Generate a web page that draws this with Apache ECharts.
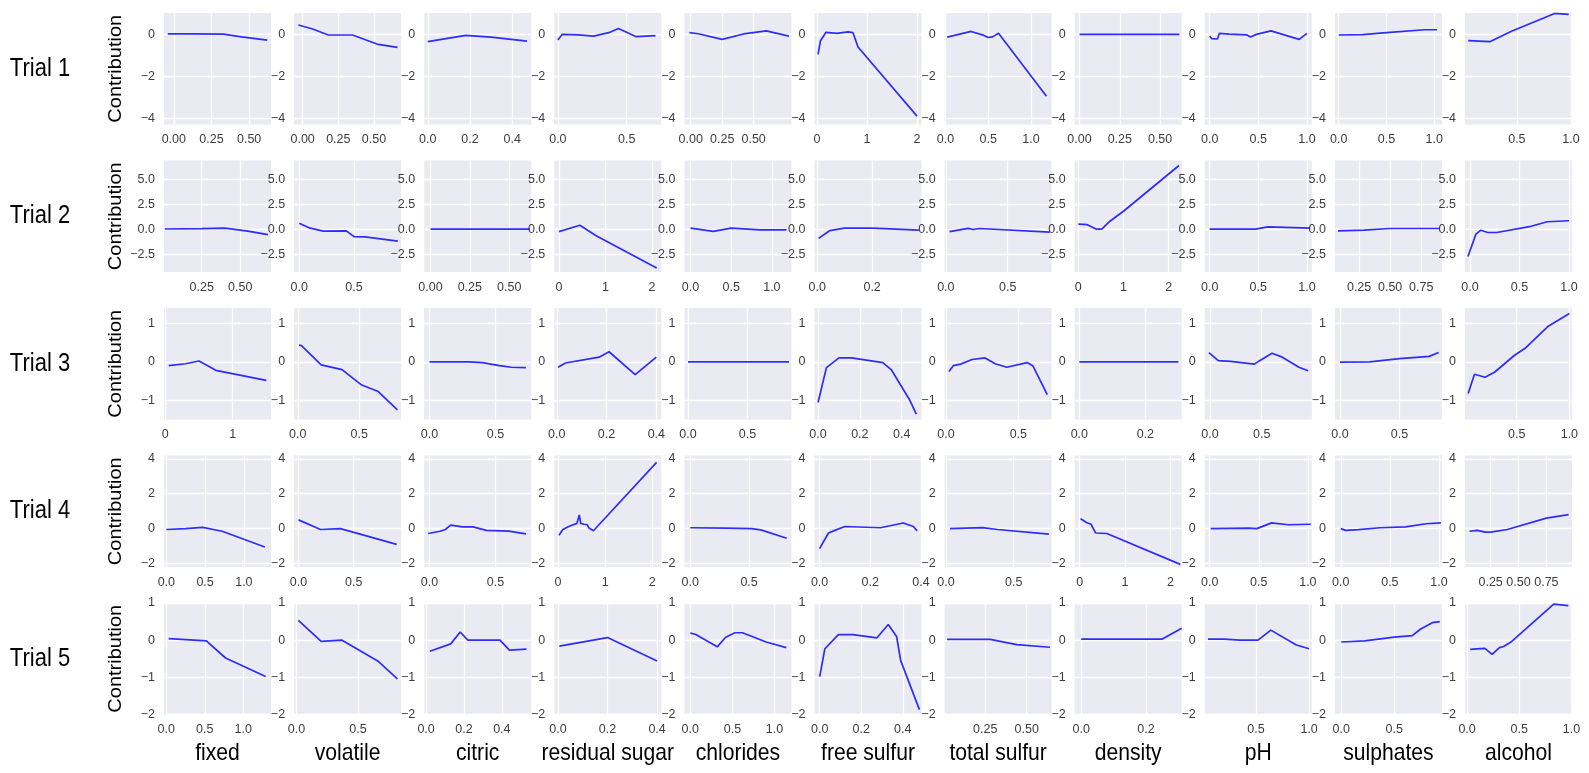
<!DOCTYPE html>
<html><head><meta charset="utf-8">
<script src="https://cdn.jsdelivr.net/npm/echarts@6/dist/echarts.min.js"></script>
<style>html,body{margin:0;padding:0;background:#fff}#chart{width:1589px;height:773px}</style>
</head><body><div id="chart"></div>
<script>
const features = ['fixed','volatile','citric','residual sugar','chlorides','free sulfur','total sulfur','density','pH','sulphates','alcohol'];
const trialNames = ['Trial 1','Trial 2','Trial 3','Trial 4','Trial 5'];
const yTicks = [[-4,-2,0],[-2.5,0,2.5,5],[-1,0,1],[-2,0,2,4],[-2,-1,0,1]];
const yLimits = [[-4.3,1.02],[-4.3,6.9],[-1.49,1.39],[-2.2,4.19],[-2.0,1.0]];

// Trial 1
const t1Lines = [
  [[-0.04,0.02],[0.1,0.02],[0.33,0.01],[0.45,-0.12],[0.62,-0.27]],
  [[-0.03,0.45],[0.065,0.27],[0.18,-0.03],[0.35,-0.03],[0.53,-0.48],[0.665,-0.62]],
  [[0,-0.35],[0.18,-0.05],[0.3,-0.13],[0.47,-0.32]],
  [[0.0,-0.27],[0.03,0.0],[0.15,-0.02],[0.26,-0.08],[0.37,0.08],[0.44,0.28],[0.57,-0.11],[0.71,-0.06]],
  [[-0.01,0.08],[0.06,0.03],[0.25,-0.24],[0.42,0.02],[0.6,0.17],[0.78,-0.08]],
  [[0.02,-0.95],[0.07,-0.3],[0.18,0.1],[0.4,0.05],[0.62,0.12],[0.72,0.08],[0.82,-0.6],[2.0,-3.9]],
  [[0.02,-0.13],[0.3,0.14],[0.45,-0.05],[0.5,-0.15],[0.55,-0.12],[0.62,0.05],[1.18,-2.95]],
  [[0,0],[0.3,0],[0.62,0]],
  [[0,-0.08],[0.02,-0.2],[0.08,-0.22],[0.1,0.05],[0.2,0.01],[0.38,-0.02],[0.42,-0.13],[0.48,0.0],[0.63,0.17],[0.92,-0.24],[1.0,0.05]],
  [[0,-0.03],[0.25,-0.01],[0.5,0.08],[0.9,0.22],[1.03,0.22]],
  [[0.05,-0.3],[0.25,-0.35],[0.45,0.15],[0.85,1.0],[0.98,0.95]]
];
const t1XLimits = [[-0.065,0.645],[-0.06,0.69],[-0.017,0.49],[-0.026,0.752],[-0.05,0.8],[-0.05,2.09],[-0.01,1.24],[-0.03,0.634],[-0.05,1.05],[-0.04,1.08],[0.02,1.01]];
const t1XTicks = [[0,0.25,0.5],[0,0.25,0.5],[0,0.2,0.4],[0,0.5],[0,0.25,0.5],[0,1,2],[0,0.5,1],[0,0.25,0.5],[0,0.5,1],[0,0.5,1],[0.5,1]];

// Trial 2
const t2Lines = [
  [[0.01,0.02],[0.25,0.05],[0.4,0.1],[0.55,-0.2],[0.68,-0.55]],
  [[0,0.6],[0.1,0.1],[0.22,-0.2],[0.43,-0.17],[0.5,-0.75],[0.6,-0.78],[0.9,-1.2]],
  [[0,0],[0.3,0],[0.63,0]],
  [[0,-0.25],[0.45,0.4],[0.8,-0.65],[2.1,-3.9]],
  [[0,0.1],[0.28,-0.22],[0.5,0.1],[0.85,-0.07],[1.18,-0.07]],
  [[0.005,-0.92],[0.045,-0.15],[0.1,0.1],[0.2,0.1],[0.37,-0.1]],
  [[0.03,-0.25],[0.18,0.08],[0.22,-0.03],[0.27,0.07],[0.84,-0.3]],
  [[0,0.5],[0.2,0.45],[0.4,0.0],[0.52,0.0],[0.7,0.8],[1.0,1.8],[2.23,6.4]],
  [[0,0],[0.47,0],[0.6,0.23],[1.03,0.1]],
  [[0.08,-0.17],[0.29,-0.1],[0.5,0.07],[0.9,0.07]],
  [[-0.02,-2.75],[0.06,-0.5],[0.11,-0.1],[0.18,-0.33],[0.27,-0.33],[0.6,0.25],[0.78,0.75],[1.0,0.85]]
];
const t2XLimits = [[0.005,0.70],[-0.047,0.93],[-0.04,0.64],[-0.1,2.2],[-0.075,1.24],[-0.01,0.38],[-0.01,0.855],[-0.08,2.29],[-0.05,1.05],[0.055,0.917],[-0.05,1.03]];
const t2XTicks = [[0.25,0.5],[0,0.5],[0,0.25,0.5],[0,1,2],[0,0.5,1],[0,0.2],[0,0.5],[0,1,2],[0,0.5,1],[0.25,0.5,0.75],[0,0.5,1]];

// Trial 3
const t3Lines = [
  [[0.05,-0.1],[0.3,-0.05],[0.5,0.02],[0.75,-0.22],[1.5,-0.48]],
  [[0.01,0.43],[0.03,0.42],[0.19,-0.08],[0.36,-0.2],[0.52,-0.6],[0.65,-0.76],[0.81,-1.24]],
  [[0,0],[0.3,0],[0.4,-0.02],[0.53,-0.1],[0.62,-0.14],[0.73,-0.15]],
  [[0.005,-0.14],[0.035,-0.03],[0.17,0.12],[0.21,0.26],[0.315,-0.33],[0.4,0.12]],
  [[0,0],[0.4,0],[0.85,0]],
  [[0,-1.05],[0.04,-0.15],[0.1,0.1],[0.16,0.1],[0.31,-0.02],[0.35,-0.2],[0.44,-1.0],[0.47,-1.35]],
  [[0.02,-0.25],[0.05,-0.1],[0.1,-0.06],[0.18,0.06],[0.27,0.1],[0.34,-0.05],[0.42,-0.14],[0.56,-0.02],[0.6,-0.1],[0.7,-0.85]],
  [[0,0],[0.15,0],[0.3,0]],
  [[-0.01,0.24],[0.08,0.03],[0.2,0.01],[0.43,-0.06],[0.48,0.03],[0.6,0.22],[0.7,0.12],[0.86,-0.14],[0.95,-0.23]],
  [[0,-0.01],[0.25,0.0],[0.5,0.08],[0.75,0.14],[0.83,0.24]],
  [[0.04,-0.82],[0.1,-0.32],[0.2,-0.4],[0.29,-0.27],[0.48,0.17],[0.58,0.35],[0.8,0.92],[1.0,1.25]]
];
const t3XLimits = [[-0.02,1.57],[-0.03,0.84],[-0.04,0.77],[-0.01,0.42],[-0.03,0.87],[-0.017,0.495],[-0.01,0.73],[-0.014,0.31],[-0.05,0.985],[-0.043,0.857],[0.01,1.025]];
const t3XTicks = [[0,1],[0,0.5],[0,0.5],[0,0.2,0.4],[0,0.5],[0,0.2,0.4],[0,0.5],[0,0.2],[0,0.5],[0,0.5],[0.5,1]];

// Trial 4
const t4Lines = [
  [[0,-0.05],[0.25,0],[0.47,0.07],[0.72,-0.15],[1.27,-1.05]],
  [[0,0.5],[0.2,-0.05],[0.38,0],[0.89,-0.9]],
  [[-0.01,-0.28],[0.08,-0.15],[0.12,-0.05],[0.16,0.2],[0.25,0.1],[0.33,0.1],[0.43,-0.1],[0.6,-0.14],[0.73,-0.3]],
  [[0.02,-0.38],[0.1,-0.05],[0.25,0.15],[0.4,0.3],[0.45,0.78],[0.48,0.3],[0.55,0.25],[0.62,0.22],[0.65,0.05],[0.75,-0.12],[2.09,3.8]],
  [[0,0.05],[0.3,0.03],[0.52,0.0],[0.6,-0.07],[0.82,-0.55]],
  [[0,-1.15],[0.035,-0.25],[0.06,-0.1],[0.1,0.12],[0.24,0.05],[0.33,0.32],[0.37,0.12],[0.385,-0.13]],
  [[0.03,0],[0.27,0.06],[0.38,-0.05],[0.76,-0.32]],
  [[0.02,0.57],[0.15,0.35],[0.25,0.25],[0.35,-0.25],[0.6,-0.28],[2.22,-2.05]],
  [[0.01,0],[0.4,0.03],[0.48,0],[0.63,0.33],[0.8,0.22],[1.03,0.25]],
  [[0,0],[0.05,-0.1],[0.18,-0.06],[0.4,0.05],[0.66,0.1],[0.87,0.28],[1.02,0.33]],
  [[0.06,-0.15],[0.13,-0.1],[0.2,-0.2],[0.25,-0.2],[0.4,-0.05],[0.75,0.6],[0.95,0.8]]
];
const t4XLimits = [[-0.03,1.35],[-0.04,0.93],[-0.04,0.77],[-0.08,2.19],[-0.05,0.86],[-0.02,0.402],[-0.01,0.78],[-0.11,2.25],[-0.05,1.04],[-0.06,1.03],[0.02,0.98]];
const t4XTicks = [[0,0.5,1],[0,0.5],[0,0.5],[0,1,2],[0,0.5],[0,0.2,0.4],[0,0.5],[0,1,2],[0,0.5,1],[0,0.5,1],[0.25,0.5,0.75]];

// Trial 5
const t5Lines = [
  [[0.03,0.04],[0.2,0.02],[0.52,-0.02],[0.77,-0.48],[1.29,-0.98]],
  [[0.015,0.53],[0.2,-0.03],[0.37,0.0],[0.66,-0.56],[0.82,-1.04]],
  [[0.02,-0.3],[0.13,-0.1],[0.18,0.22],[0.22,0.0],[0.39,0.0],[0.44,-0.27],[0.53,-0.24]],
  [[0.005,-0.16],[0.2,0.07],[0.4,-0.56]],
  [[0,0.19],[0.06,0.16],[0.32,-0.18],[0.42,0.08],[0.53,0.2],[0.62,0.2],[0.9,-0.05],[1.14,-0.2]],
  [[0,-0.98],[0.025,-0.23],[0.09,0.15],[0.16,0.15],[0.275,0.06],[0.33,0.42],[0.37,0.1],[0.39,-0.55],[0.48,-1.87]],
  [[0.02,0.02],[0.28,0.02],[0.44,-0.12],[0.64,-0.19]],
  [[0,0.03],[0.25,0.03],[0.31,0.32]],
  [[0.05,0.03],[0.2,0.03],[0.35,0.0],[0.52,0.0],[0.64,0.27],[0.88,-0.13],[1.0,-0.23]],
  [[0,-0.05],[0.22,-0.02],[0.5,0.08],[0.67,0.12],[0.75,0.3],[0.86,0.47],[0.93,0.5]],
  [[0.03,-0.25],[0.17,-0.22],[0.24,-0.38],[0.31,-0.2],[0.35,-0.17],[0.42,-0.05],[0.83,0.97],[0.97,0.93]]
];
const t5XLimits = [[-0.03,1.36],[-0.02,0.85],[-0.01,0.555],[-0.015,0.417],[-0.07,1.2],[-0.025,0.49],[0.005,0.65],[-0.02,0.31],[0.02,1.025],[-0.06,0.95],[-0.02,1.005]];
const t5XTicks = [[0,0.5,1],[0,0.5],[0,0.2,0.4],[0,0.2,0.4],[0,0.5,1],[0,0.2,0.4],[0.25,0.5],[0,0.2],[0.5,1],[0,0.5],[0,0.5,1]];

const allLines = [t1Lines,t2Lines,t3Lines,t4Lines,t5Lines];
const allXLimits = [t1XLimits,t2XLimits,t3XLimits,t4XLimits,t5XLimits];
const allXTicks = [t1XTicks,t2XTicks,t3XTicks,t4XTicks,t5XTicks];

const LEFT0 = 164, COLSTEP = 130.1, PW = 107, TOP0 = 13, ROWSTEP = 147.5, PH = 111.5;
const LINE_COLOR = 'rgba(10,10,255,0.85)';
const TICK_COLOR = '#3d3d3d';
const TICK_FONT = 'Liberation Sans';

function decimalsOf(arr){
  let d = 0;
  arr.forEach(v => { const s = String(v); const i = s.indexOf('.'); if (i >= 0) d = Math.max(d, s.length - i - 1); });
  return d;
}
function fmt(v, d){
  const r = Math.abs(v) < 1e-12 ? 0 : v;
  const s = Math.abs(r).toFixed(d);
  return (r < 0 ? '\u2212' : '') + s;
}

const grids = [], xAxes = [], yAxes = [], series = [], graphics = [];
for (let r = 0; r < 5; r++) {
  const top = TOP0 + r * ROWSTEP;
  const yd = decimalsOf(yTicks[r]);
  for (let c = 0; c < 11; c++) {
    const idx = r * 11 + c;
    const left = LEFT0 + c * COLSTEP;
    grids.push({left: left, top: top, width: PW, height: PH, show: true, backgroundColor: '#EAEAF2', borderWidth: 0, containLabel: false, outerBoundsMode: 'none'});
    const xt = allXTicks[r][c];
    const xd = decimalsOf(xt);
    xAxes.push({
      gridIndex: idx, type: 'value', min: allXLimits[r][c][0], max: allXLimits[r][c][1],
      axisLine: {show: false}, axisTick: {show: false, customValues: xt},
      axisLabel: {customValues: xt, margin: 9, color: TICK_COLOR, fontSize: 12.5, fontFamily: TICK_FONT, formatter: v => fmt(v, xd)},
      splitLine: {show: true, lineStyle: {color: '#ffffff', width: 1.3}}
    });
    const yt = yTicks[r];
    yAxes.push({
      gridIndex: idx, type: 'value', min: yLimits[r][0], max: yLimits[r][1],
      axisLine: {show: false}, axisTick: {show: false, customValues: yt},
      axisLabel: {customValues: yt, margin: 9, color: TICK_COLOR, fontSize: 12.5, fontFamily: TICK_FONT, formatter: v => fmt(v, yd)},
      splitLine: {show: true, lineStyle: {color: '#ffffff', width: 1.3}}
    });
    series.push({
      type: 'line', xAxisIndex: idx, yAxisIndex: idx, data: allLines[r][c],
      showSymbol: false, symbol: 'none', clip: true, silent: true,
      lineStyle: {color: LINE_COLOR, width: 1.7}, emphasis: {disabled: true}
    });
  }
  const cy = top + PH / 2;
  graphics.push({type: 'text', x: 40, y: cy, scaleX: 0.88, silent: true,
    style: {text: trialNames[r], fill: '#000', fontSize: 25, fontFamily: 'Liberation Sans', align: 'center', verticalAlign: 'middle', textAlign: 'center', textVerticalAlign: 'middle'}});
  graphics.push({type: 'text', x: 116, y: cy, rotation: Math.PI / 2, scaleY: 0.9, silent: true,
    style: {text: 'Contribution', fill: '#000', fontSize: 20, fontFamily: 'Liberation Sans', align: 'center', verticalAlign: 'middle', textAlign: 'center', textVerticalAlign: 'middle'}});
}
for (let c = 0; c < 11; c++) {
  graphics.push({type: 'text', x: LEFT0 + c * COLSTEP + PW / 2, y: 753, scaleX: 0.88, silent: true,
    style: {text: features[c], fill: '#000', fontSize: 24, fontFamily: 'Liberation Sans', align: 'center', verticalAlign: 'middle', textAlign: 'center', textVerticalAlign: 'middle'}});
}

const chart = echarts.init(document.getElementById('chart'), null, {renderer: 'canvas'});
chart.setOption({
  backgroundColor: '#ffffff',
  animation: false,
  grid: grids, xAxis: xAxes, yAxis: yAxes, series: series,
  graphic: graphics
});
</script>
</body></html>
